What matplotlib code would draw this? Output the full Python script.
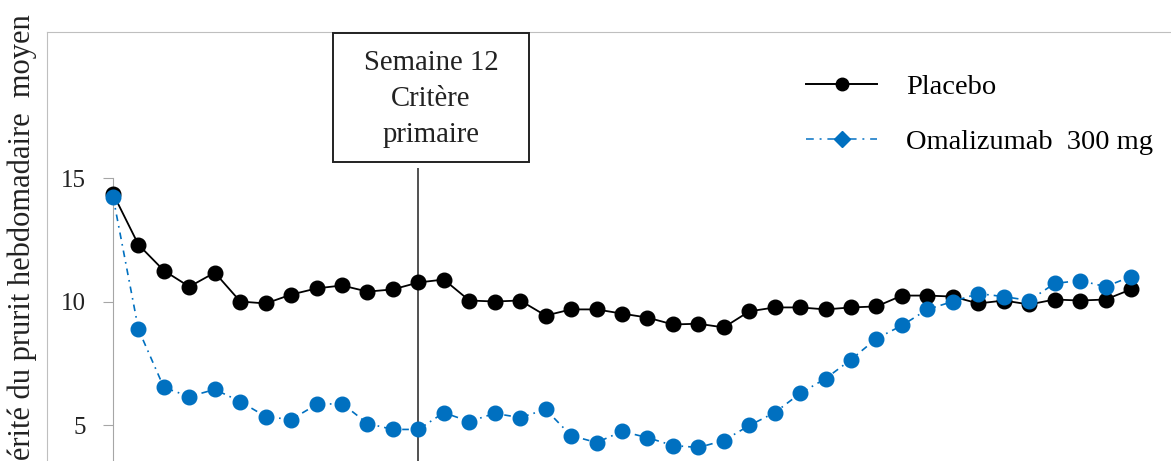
import matplotlib
matplotlib.use("Agg")
import matplotlib.pyplot as plt
from matplotlib.lines import Line2D
from matplotlib.patches import Rectangle

plt.rcParams['font.family'] = ['Liberation Serif', 'DejaVu Serif']

# semaines 0..40
weeks = list(range(41))
placebo = [14.37, 12.3, 11.25, 10.6, 11.17, 10.0, 9.92, 10.28, 10.53, 10.65,
           10.4, 10.49, 10.77, 10.89, 10.04, 10.0, 10.04, 9.43, 9.68, 9.68,
           9.51, 9.35, 9.07, 9.1, 8.95, 9.6, 9.76, 9.76, 9.68, 9.76,
           9.8, 10.24, 10.24, 10.2, 9.92, 10.04, 9.88, 10.08, 10.04, 10.08,
           10.49]
omalizumab = [14.25, 8.87, 6.52, 6.15, 6.44, 5.95, 5.34, 5.22, 5.83, 5.87,
              5.06, 4.82, 4.82, 5.5, 5.14, 5.47, 5.3, 5.63, 4.57, 4.29,
              4.74, 4.49, 4.17, 4.09, 4.37, 4.98, 5.5, 6.28, 6.88, 7.65,
              8.5, 9.03, 9.68, 10.0, 10.32, 10.2, 10.04, 10.73, 10.85, 10.6,
              11.01]
yticks = [0, 5, 10, 15]
labels = ['Placebo', 'Omalizumab  300 mg']
week_marker = 12

W, H = 1171, 461
BLUE = '#0070C0'
GRID = '#BFBFBF'

fig = plt.figure(figsize=(W / 100, H / 100), dpi=100)
rect = [47 / W, 0, (W - 47) / W, (H - 32) / H]

# cadre gris (haut + gauche)
frame = fig.add_axes(rect)
frame.set_xticks([])
frame.set_yticks([])
frame.patch.set_visible(False)
for s in ['right', 'bottom']:
    frame.spines[s].set_visible(False)
for s in ['left', 'top']:
    frame.spines[s].set_color(GRID)
    frame.spines[s].set_linewidth(0.8)

ax = fig.add_axes(rect)
ax.patch.set_visible(False)

ax.plot(weeks, placebo, color='black', lw=1.3, marker='o', ms=10.5,
        zorder=3)
ax.plot(weeks, omalizumab, color=BLUE, lw=1.2, ls=(0, (4, 3, 1, 3)),
        marker='o', ms=10.5, zorder=4)

ax.set_xticks([])
ax.set_yticks(yticks)
ax.set_xlim(-66 / 25.45, 1058 / 25.45)
ax.set_ylim(10 - 159.5 / 24.7, 10 + 269.5 / 24.7)
ymin, ymax = ax.get_ylim()

for s in ['right', 'bottom', 'top']:
    ax.spines[s].set_visible(False)
ax.spines['left'].set_position(('data', 0))
ax.spines['left'].set_bounds(ymin, 15)
ax.spines['left'].set_color('#A6A6A6')
ax.tick_params(axis='y', direction='out', length=7, width=0.8,
               color='#A6A6A6', pad=12.5, labelsize=18, labelcolor='#222222')

# ligne semaine 12
ax.vlines(week_marker, ymin, 10 + (301.5 - 168) / 24.7,
          color='#333333', lw=1.2, zorder=2)

# boite "Semaine 12"
fig.patches.append(Rectangle((333 / W, 1 - 162 / H), 196 / W, 129 / H,
                             transform=fig.transFigure, fill=False,
                             ec='#222222', lw=1.4))
fig.text(431 / W, 1 - 99 / H, 'Semaine 12\nCritère\nprimaire',
         ha='center', va='center', fontsize=20.7, linespacing=1.52,
         color='#222222')

# axe y
fig.text(22 / W, 1 - 14 / H,
         'Score de sévérité du prurit hebdomadaire  moyen',
         rotation=90, ha='center', va='top', fontsize=22, color='#222222')

handles = [Line2D([], [], color='black', lw=1.4, marker='o', ms=9),
           Line2D([], [], color='#3A8FD0', lw=1.4, ls=(0, (4, 3, 1, 3)),
                  marker='D', ms=8, mfc=BLUE, mec=BLUE)]
ax.legend(handles, labels, loc='upper left',
          bbox_to_anchor=(792 / W, 1 - 60 / H),
          bbox_transform=fig.transFigure, frameon=False, borderpad=0,
          handlelength=2.5, handletextpad=1.0, labelspacing=1.0,
          fontsize=20.5)

fig.savefig('out.png', dpi=100)
